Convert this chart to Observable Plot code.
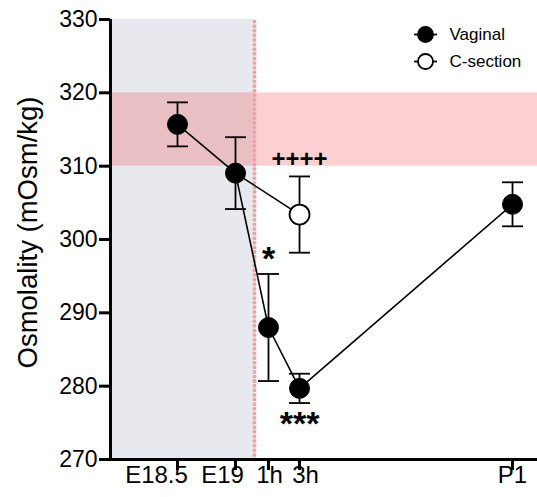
<!DOCTYPE html>
<html><head><meta charset="utf-8">
<script src="https://cdn.jsdelivr.net/npm/d3@7"></script>
<script src="https://cdn.jsdelivr.net/npm/@observablehq/plot@0.6"></script>
<style>body{margin:0;background:#fff} #chart svg{display:block}</style>
</head><body><div id="chart"></div>
<script>
// ---- data ----
const categories = ["E18.5", "E19", "1h", "3h", "P1"];
const slotPosition = [1.155, 2.155, 2.724, 3.259, 6.931]; // uneven timeline slots
const vaginalMean = [315.7, 309.05, 288.0, 279.7, 304.8];
const vaginalErr = [3.0, 4.9, 7.3, 2.0, 3.0];
const csectionCategories = ["3h"];
const csectionMean = [303.4];
const csectionErr = [5.2];
const csectionFrom = "E19"; // C-section line starts at the shared E19 point
const birthPosition = 2.483;
const xDomain = [0, 7.362];
const yDomain = [270, 330];
const yTicks = [270, 280, 290, 300, 310, 320, 330];
const referenceBand = [310, 320];
const annLabels = ["*", "***", "++++"];
const annCategories = ["1h", "3h", "3h"];
const annValues = [297.3, 274.8, 310.9];
const legendLabels = ["Vaginal", "C-section"];

// ---- build tables ----
const posOf = c => slotPosition[categories.indexOf(c)];
const vaginal = categories.map((c, i) => ({c, x: slotPosition[i], y: vaginalMean[i], lo: vaginalMean[i] - vaginalErr[i], hi: vaginalMean[i] + vaginalErr[i]}));
const csection = csectionCategories.map((c, i) => ({c, x: posOf(c), y: csectionMean[i], lo: csectionMean[i] - csectionErr[i], hi: csectionMean[i] + csectionErr[i]}));
const csLine = [vaginal.find(d => d.c === csectionFrom), ...csection];
const ann = annLabels.map((t, i) => ({t, x: posOf(annCategories[i]), y: annValues[i]}));
const errData = [...vaginal, ...csection];
const birthLine = yDomain.map(y => ({x: birthPosition, y}));

// styling
const labelShift = [-21, -13, 1, 6, 0]; // x tick-label nudges as in the original figure
const annSize = t => t.startsWith("*") ? 34 : 24;
const hline = (hw) => ({draw(ctx) { ctx.moveTo(-hw, 0); ctx.lineTo(hw, 0); }});
const FONT = "'Liberation Sans', Arial, Helvetica, sans-serif";

const legendMarks = legendLabels.flatMap((label, i) => {
  const dy = 15 + i * 27;
  return [
    Plot.dot([label], {frameAnchor: "top-left", dx: 315, dy, symbol: hline(11.5), stroke: "black", fill: "none", strokeWidth: 1.8}),
    Plot.dot([label], {frameAnchor: "top-left", dx: 315, dy, r: 7.5, fill: i === 0 ? "black" : "white", stroke: "black", strokeWidth: 1.8}),
    Plot.text([label], {frameAnchor: "top-left", dx: 339, dy, text: d => d, textAnchor: "start", lineAnchor: "middle", fontSize: 17, fill: "black"})
  ];
});

const xLabelMarks = categories.map((c, i) =>
  Plot.text([c], {x: () => slotPosition[i], frameAnchor: "bottom", dy: 23, dx: labelShift[i], text: d => d, fontSize: 24, fill: "black"})
);

const chart = Plot.plot({
  width: 537, height: 497,
  marginLeft: 110, marginRight: 0, marginTop: 19, marginBottom: 38,
  style: {fontFamily: FONT, color: "black", background: "white"},
  x: {domain: xDomain, axis: null},
  y: {domain: yDomain, axis: null},
  marks: [
    Plot.rect([0], {x1: () => xDomain[0], x2: () => birthPosition, y1: () => yDomain[0], y2: () => yDomain[1], fill: "#e8e9ee"}),
    Plot.rect([0], {x1: () => xDomain[0], x2: () => xDomain[1], y1: () => referenceBand[0], y2: () => referenceBand[1], fill: "rgb(243,60,64)", fillOpacity: 0.245}),
    Plot.line(birthLine, {x: "x", y: "y", stroke: "#f5a0a4", strokeWidth: 4, strokeDasharray: "0.01 4.6", strokeLinecap: "round"}),
    // error bars
    Plot.ruleX(errData, {x: "x", y1: "lo", y2: "hi", stroke: "black", strokeWidth: 1.8}),
    Plot.dot(errData, {x: "x", y: "hi", symbol: hline(10.5), stroke: "black", fill: "none", strokeWidth: 1.8}),
    Plot.dot(errData, {x: "x", y: "lo", symbol: hline(10.5), stroke: "black", fill: "none", strokeWidth: 1.8}),
    // lines
    Plot.line(vaginal, {x: "x", y: "y", stroke: "black", strokeWidth: 1.6}),
    Plot.line(csLine, {x: "x", y: "y", stroke: "black", strokeWidth: 1.6}),
    // dots
    Plot.dot(csection, {x: "x", y: "y", r: 10, fill: "white", stroke: "black", strokeWidth: 1.8}),
    Plot.dot(vaginal, {x: "x", y: "y", r: 10, fill: "black", stroke: "black", strokeWidth: 1}),
    // annotations
    Plot.text(ann, {x: "x", y: "y", text: "t", fontSize: d => annSize(d.t), fontWeight: "bold", fill: "black"}),
    // axes
    Plot.axisY(yTicks, {tickSize: 11, tickPadding: 2, fontSize: 23, strokeWidth: 3, label: null}),
    Plot.axisX(slotPosition, {tickSize: 11, strokeWidth: 3, label: null, text: null}),
    ...xLabelMarks,
    Plot.ruleX([xDomain[0]], {stroke: "black", strokeWidth: 3}),
    Plot.ruleY([yDomain[0]], {stroke: "black", strokeWidth: 3}),
    Plot.text(["Osmolality (mOsm/kg)"], {frameAnchor: "left", dx: -82, dy: -7, rotate: -90, textAnchor: "middle", text: d => d, fontSize: 27.5, fill: "black"}),
    ...legendMarks
  ]
});
document.getElementById("chart").appendChild(chart);
</script>
</body></html>
